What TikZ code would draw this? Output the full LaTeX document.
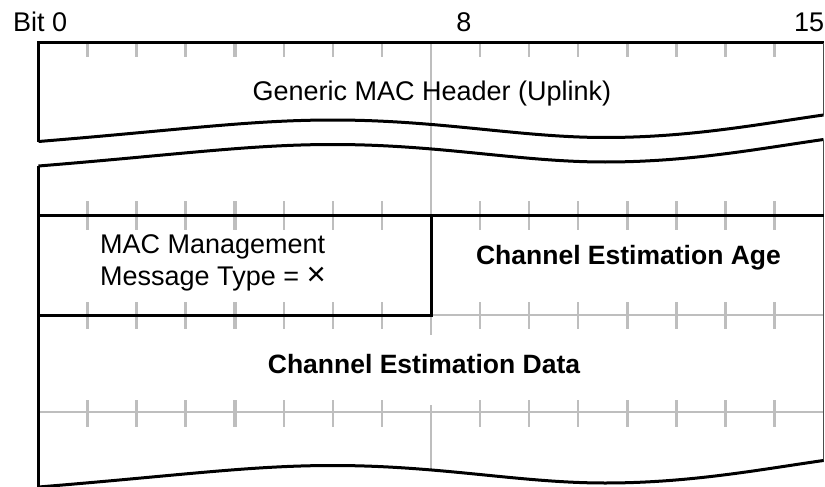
\documentclass[tikz,border=0pt]{standalone}
\usepackage{fontspec}
\setmainfont{Liberation Sans}
\definecolor{tickgray}{RGB}{190,190,190}
\begin{document}
\begin{tikzpicture}[x=1pt,y=-1pt,
  blk/.style={line width=3pt, black, line join=miter},
  thinedge/.style={line width=1.2pt, black!70},
  gry/.style={line width=2.5pt, tickgray},
  tickmark/.style={line width=2.5pt, tickgray},
  tickbig/.style={line width=3.5pt, tickgray},
  lbl/.style={inner sep=0pt, font=\fontsize{27}{32}\selectfont},
  boldlbl/.style={inner sep=0pt, font=\fontsize{26.5}{32}\selectfont\bfseries},
  ]
\useasboundingbox (0,0) rectangle (825,487);
\def\L{38.5}
\def\R{823.5}
\def\B{49.0625}
\def\wave{(38.5,141.5) .. controls (180,130) and (250,120) .. (333,120) .. controls (440,120) and (520,137.5) .. (605,137.5) .. controls (690,137.5) and (760,124) .. (823.5,115)}
% gray long lines
\draw[gry] ({\L+8*\B},43) -- ({\L+8*\B},215);
\draw[gry] ({\L+8*\B},315) -- ({\L+8*\B},335);
\draw[gry] ({\L+8*\B},315) -- (\R,315);
\draw[gry] (\L,412) -- (\R,412);
\draw[gry] ({\L+8*\B},405) -- ({\L+8*\B},470);
% ticks
\foreach \i in {1,...,7,9,10,...,15}{
  \pgfmathsetmacro{\xx}{\L+\i*\B}
  \ifnum\i=4 \def\ts{tickbig}\else\ifnum\i=12 \def\ts{tickbig}\else\def\ts{tickmark}\fi\fi
  \draw[\ts] (\xx,43) -- (\xx,57);
  \draw[\ts] (\xx,201) -- (\xx,230);
  \draw[\ts] (\xx,302) -- (\xx,329);
  \draw[\ts] (\xx,400) -- (\xx,427);
}
% block 1
\draw[blk] (\L,141.5) -- (\L,43) -- (\R,43);
\draw[thinedge] (\R,43) -- (\R,115);
\draw[blk] \wave;
% wave 2 and following blocks
\begin{scope}[shift={(0,24.5)}]
\draw[blk] \wave;
\end{scope}
\draw[blk] (\L,166) -- (\L,490);
\draw[thinedge] (\R,139.5) -- (\R,462);
\draw[blk] (\L,215) -- (\R,215);
\draw[blk] ({\L+8*\B},215) -- ({\L+8*\B},315) -- (\L,315);
\begin{scope}[shift={(0,345.5)}]
\draw[blk] \wave;
\end{scope}
% labels
\node[lbl, anchor=base west] (bit0) at (13,32) {Bit 0};
\node[lbl, anchor=base] (bit8) at (464,32) {8};
\node[lbl, anchor=base west] (bit15) at (794,32) {15};
\node[lbl, anchor=base] (gmh) at (432,100) {Generic MAC Header (Uplink)};
\node[lbl, anchor=base west] (mmt1) at (100,253) {MAC Management};
\node[lbl, anchor=base west] (mmt2) at (100,285) {Message Type = {\fontsize{33}{32}\selectfont ×}};
\node[boldlbl, anchor=base] (cea) at (628.5,264) {Channel Estimation Age};
\node[boldlbl, anchor=base] (ced) at (424,373) {Channel Estimation Data};
\end{tikzpicture}
\end{document}
